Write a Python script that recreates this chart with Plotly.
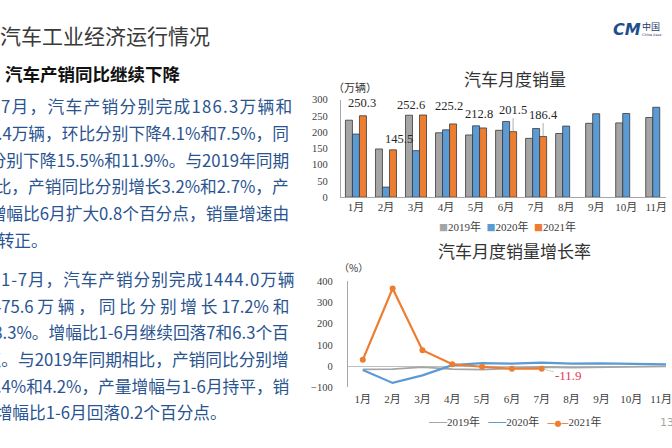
import plotly.graph_objects as go

W, H = 672, 448

months = ["1月", "2月", "3月", "4月", "5月", "6月", "7月", "8月", "9月", "10月", "11月", "12月"]
years = ["2019年", "2020年", "2021年"]

sales_2019 = [236.7, 148.2, 252.0, 198.0, 191.3, 205.6, 180.9, 195.8, 227.1, 228.4, 245.0, 265.7]
sales_2020 = [194.1, 31.0, 143.1, 207.0, 219.4, 232.8, 211.2, 218.6, 256.5, 257.3, 276.5, 283.1]
sales_2021 = [250.3, 145.5, 252.6, 225.2, 212.8, 201.5, 186.4]

growth_2019 = [-15.8, -13.8, -5.2, -14.6, -16.4, -9.6, -4.3, -6.9, -5.2, -4.0, -3.6, 0.1]
growth_2020 = [-18.0, -79.1, -43.3, 4.4, 14.5, 11.6, 16.4, 11.6, 12.8, 12.5, 12.6, 6.4]
growth_2021 = [29.5, 364.8, 74.9, 8.6, -3.1, -12.4, -11.9]

bar_ticks = [0, 50, 100, 150, 200, 250, 300]
line_ticks = [-100, 0, 100, 200, 300, 400]

page_title = "汽车工业经济运行情况"
section_title = "汽车产销同比继续下降"
para1 = [
    "7月，汽车产销分别完成186.3万辆和",
    "181.4万辆，环比分别下降4.1%和7.5%，同",
    "比分别下降15.5%和11.9%。与2019年同期",
    "相比，产销同比分别增长3.2%和2.7%，产",
    "量增幅比6月扩大0.8个百分点，销量增速由",
    "负转正。",
]
para2 = [
    "1-7月，汽车产销分别完成1444.0万辆",
    "和1475.6 万 辆 ， 同 比 分 别 增 长 17.2% 和",
    "18.3%。增幅比1-6月继续回落7和6.3个百",
    "分点。与2019年同期相比，产销同比分别增",
    "长4.4%和4.2%，产量增幅与1-6月持平，销",
    "量增幅比1-6月回落0.2个百分点。",
]

GRAY, BLUE, ORANGE = "#A5A5A5", "#5B9BD5", "#ED7D31"
COLORS = [GRAY, BLUE, ORANGE]
CJK = "Noto Sans CJK SC"
CHART_FONT = "Liberation Serif, Noto Sans CJK SC"
TXT_BLUE = "#2A5490"
BODY_SIZE = 16.7


def px(x, y):
    return x / W, 1 - y / H


fig = go.Figure()

# ---- bar chart ----
for name, vals, col in zip(years, [sales_2019, sales_2020, sales_2021], COLORS):
    fig.add_trace(go.Bar(
        x=months[:len(vals)], y=vals, name=name, xaxis="x", yaxis="y",
        marker=dict(color=col, line=dict(color="#3A3A3A", width=0.8)),
        showlegend=False, hoverinfo="skip",
    ))

# ---- line chart ----
for name, vals, col, wdt, mode in zip(
        years, [growth_2019, growth_2020, growth_2021], COLORS,
        [1.8, 2.2, 2.2], ["lines", "lines", "lines+markers"]):
    fig.add_trace(go.Scatter(
        x=months[:len(vals)], y=vals, name=name, mode=mode, xaxis="x2", yaxis="y2",
        line=dict(color=col, width=wdt), marker=dict(size=6, color=col),
        showlegend=False, hoverinfo="skip",
    ))

annotations = []

# data labels for 2021 bars (offsets in px: style only)
label_dx = [-1, 6, -12, -4, -4, 0, 0]
label_dy = [-13, -11, -10, -18, -14, -22, -22]
label_arrow = [False, False, False, False, False, True, True]
for m, v, dx, dy, arr in zip(months, sales_2021, label_dx, label_dy, label_arrow):
    annotations.append(dict(
        x=m, y=v, xref="x", yref="y", text=f"{v}", showarrow=True,
        ax=dx, ay=dy, xshift=7, arrowhead=0, arrowwidth=0.7, standoff=0,
        arrowcolor="#8C8C8C" if arr else "rgba(0,0,0,0)",
        font=dict(family=CHART_FONT, size=12.5, color="#262626"),
    ))

# last value label on growth line
annotations.append(dict(
    x=months[len(growth_2021) - 1], y=growth_2021[-1], xref="x2", yref="y2",
    text=f"{growth_2021[-1]}", showarrow=True, ax=27, ay=7, arrowhead=0,
    arrowwidth=0.7, arrowcolor="#A9C3A3", standoff=2,
    font=dict(family=CHART_FONT, size=13, color="#E03B52"),
))


def txt(x, y, text, size, color="#262626", xanchor="left", family=CJK, bold=False):
    xx, yy = px(x, y)
    annotations.append(dict(
        x=xx, y=yy, xref="paper", yref="paper", text=f"<b>{text}</b>" if bold else text,
        showarrow=False, xanchor=xanchor, yanchor="middle",
        font=dict(family=family, size=size, color=color),
    ))


def spaced(s, ls):
    return f"<span style='letter-spacing:{ls}px'>{s}</span>"


# slide texts
txt(-2, 31, page_title, 21, "#3A3A3A")
txt(3, 70, section_title, 17.5, "#111111", bold=True)
line_h = 27.3
first_line_spacing = [1.3, 0.9]   # justified first lines (style)
for para, y0, last_x, ls in ((para1, 104, -21, first_line_spacing[0]),
                             (para2, 281, -23, first_line_spacing[1])):
    for i, line in enumerate(para):
        y = y0 + i * line_h
        if i == len(para) - 1:
            txt(last_x, y, line, BODY_SIZE, TXT_BLUE)
        elif i == 0:
            txt(-1, y, spaced(line, ls), BODY_SIZE, TXT_BLUE)
        else:
            txt(294, y, line, BODY_SIZE, TXT_BLUE, xanchor="right")

# chart titles / units
txt(520, 75, "汽车月度销量", 17, "#333333", xanchor="center")
txt(358, 84, "（万辆）", 11, "#333333", xanchor="center")
txt(519, 252, "汽车月度销量增长率", 17, "#333333", xanchor="center")
txt(357, 269, "（%）", 10, "#333333", xanchor="center")

# legends (compact, as in the reference)
bar_leg = "&nbsp;&nbsp;".join(
    f"<span style='color:{c};font-family:Noto Sans CJK SC;font-size:9px'>■</span>{y}"
    for y, c in zip(years, COLORS))
txt(512, 228, bar_leg, 11, "#404040", xanchor="center", family=CHART_FONT)
line_syms = [
    f"<span style='color:{GRAY};font-family:Noto Sans CJK SC;font-size:9px'>━━</span>",
    f"<span style='color:{BLUE};font-family:Noto Sans CJK SC;font-size:9px'>━━</span>",
    f"<span style='color:{ORANGE};font-family:Noto Sans CJK SC;font-size:7px'>━●━</span>",
]
line_leg = "&nbsp;&nbsp;&nbsp;".join(s + y for s, y in zip(line_syms, years))
txt(520, 427, line_leg, 11, "#404040", xanchor="center", family=CHART_FONT)

# logo & page number
txt(633, 25, "<i>CM</i>", 16, "#1F4E8C", xanchor="center", family="DejaVu Sans", bold=True)
txt(646, 22, "中国", 9, "#1F3864")
txt(646, 31, "China Asso", 3.5, "#1F3864", family="DejaVu Sans")
txt(664, 428, "13", 11, "#A6A6A6", family="DejaVu Sans")

x1a = px(344, 0)[0]
y1a, y1b = px(0, 197)[1], px(0, 97)[1]
x2a = px(351, 0)[0]
y2a, y2b = px(0, 392)[1], px(0, 283)[1]

axis_font = dict(family=CHART_FONT, size=11, color="#404040")
fig.update_layout(
    width=W, height=H, margin=dict(l=0, r=0, t=0, b=0),
    paper_bgcolor="white", plot_bgcolor="rgba(0,0,0,0)",
    barmode="group", bargap=0.3, bargroupgap=0,
    showlegend=False,
    xaxis=dict(domain=[x1a, 1], anchor="y", type="category", categoryarray=months,
               range=[-0.5, (W - 344) / 30.3 - 0.5], showline=True, linecolor="#A6A6A6",
               linewidth=1, showgrid=False, ticks="", tickfont=axis_font, fixedrange=True),
    yaxis=dict(domain=[y1a, y1b], anchor="x", range=[0, 300], tickvals=bar_ticks,
               showline=True, linecolor="#A6A6A6", linewidth=1, showgrid=False,
               zeroline=False, ticks="", ticklabelstandoff=10,
               tickfont=dict(family=CHART_FONT, size=10.5, color="#404040")),
    xaxis2=dict(domain=[x2a, 1], anchor="y2", type="category", categoryarray=months,
                range=[-0.5, (W - 351) / 30.1 - 0.5], showline=False, showgrid=False,
                ticks="", tickfont=axis_font, ticklabelstandoff=4),
    yaxis2=dict(domain=[y2a, y2b], anchor="x2", range=[-100, 400], tickvals=line_ticks,
                showline=True, linecolor="#A6A6A6", linewidth=1, showgrid=False,
                zeroline=True, zerolinecolor="#BFBFBF", zerolinewidth=1.3,
                ticks="", ticklabelstandoff=12,
                tickfont=dict(family=CHART_FONT, size=10.5, color="#404040")),
    annotations=annotations,
)

fig.write_html(
    "out.html",
    config={"displayModeBar": False},
    post_script="document.body.style.margin='0';document.body.style.overflow='hidden';",
)
